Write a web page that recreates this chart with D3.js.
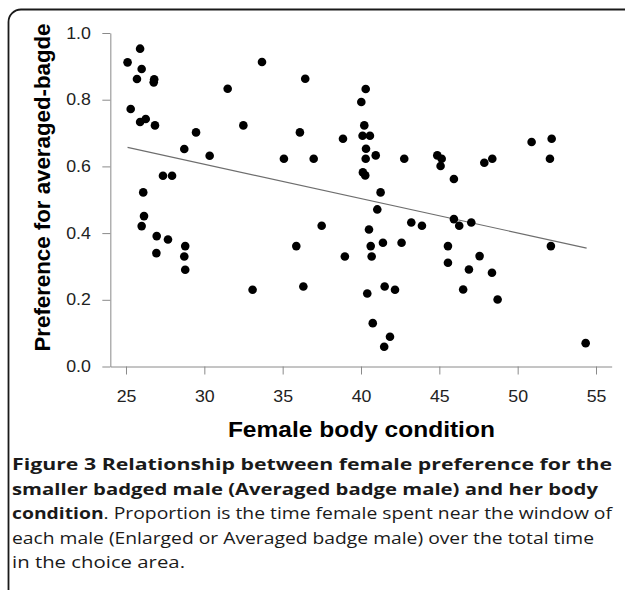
<!DOCTYPE html>
<html>
<head>
<meta charset="utf-8">
<script src="https://cdn.jsdelivr.net/npm/d3@7"></script>
<style>
  html, body { margin: 0; padding: 0; background: #fff; }
  svg { display: block; }
</style>
</head>
<body>
<svg id="chart" width="625" height="590"></svg>
<script>
// ---- data ----
const bodyCondition = [
  25.1, 25.9, 26.0, 25.7, 26.8, 26.77, 25.3, 25.9, 26.26, 26.85,
  31.49, 32.49, 29.47, 28.72, 30.34, 27.36, 27.94, 26.1, 26.15, 26.0,
  26.96, 27.68, 26.94, 28.78, 28.72, 28.78, 33.08, 33.68, 36.44, 40.30,
  40.02, 36.1, 40.21, 38.85, 40.10, 40.57, 40.32, 35.08, 36.98, 40.30,
  40.94, 42.76, 40.12, 40.27, 41.25, 41.04, 43.21, 43.89, 37.49, 40.51,
  35.87, 40.62, 41.40, 42.59, 38.97, 40.68, 36.32, 40.40, 41.51, 42.17,
  40.75, 41.85, 41.48, 44.87, 45.15, 45.08, 45.93, 47.87, 48.38, 50.89,
  52.17, 52.06, 45.93, 46.27, 47.04, 52.12, 45.55, 45.55, 47.57, 46.89,
  48.36, 46.52, 48.72, 54.34
];
const preference = [
  0.912, 0.953, 0.892, 0.862, 0.861, 0.852, 0.772, 0.733, 0.742, 0.723,
  0.833, 0.723, 0.702, 0.652, 0.632, 0.572, 0.572, 0.522, 0.451, 0.421,
  0.391, 0.381, 0.340, 0.361, 0.330, 0.290, 0.230, 0.913, 0.863, 0.832,
  0.793, 0.702, 0.723, 0.683, 0.692, 0.692, 0.653, 0.623, 0.623, 0.623,
  0.633, 0.623, 0.582, 0.573, 0.522, 0.471, 0.432, 0.422, 0.422, 0.411,
  0.361, 0.361, 0.371, 0.371, 0.330, 0.330, 0.240, 0.219, 0.240, 0.230,
  0.130, 0.089, 0.059, 0.633, 0.623, 0.601, 0.562, 0.611, 0.623, 0.673,
  0.683, 0.623, 0.442, 0.422, 0.432, 0.361, 0.361, 0.311, 0.331, 0.291,
  0.281, 0.231, 0.201, 0.070
];
// fitted regression line end points
const fitX = [25.1, 54.4];
const fitY = [0.657, 0.355];

const xTicks = [25, 30, 35, 40, 45, 50, 55];
const yTicks = [0.0, 0.2, 0.4, 0.6, 0.8, 1.0];

const xTitle = "Female body condition";
const yTitle = "Preference for averaged-bagde";

const captionLines = [
  [{t: "Figure 3 Relationship between female preference for the", b: true}],
  [{t: "smaller badged male (Averaged badge male) and her body", b: true}],
  [{t: "condition", b: true}, {t: ". Proportion is the time female spent near the window of", b: false}],
  [{t: "each male (Enlarged or Averaged badge male) over the total time", b: false}],
  [{t: "in the choice area.", b: false}]
];

// ---- drawing ----
const svg = d3.select("#chart");
const stretch = 1.11;

// frame
svg.append("path")
  .attr("d", "M8.5,600 L8.5,22 A12.5,12.5 0 0 1 21,9.5 L640,9.5")
  .attr("fill", "none")
  .attr("stroke", "#1a1a1a")
  .attr("stroke-width", 1.8);

const x = d3.scaleLinear().domain([24, 56]).range([110.33, 611.67]);
const y = d3.scaleLinear().domain([0, 1]).range([366.5, 33]);

const axisColor = "#8a8a8a";

// x axis
const gx = svg.append("g")
  .attr("transform", `translate(0,${y(0)})`)
  .call(d3.axisBottom(x).tickValues(xTicks).tickSize(8).tickSizeOuter(0)
        .tickFormat(d3.format("d")));
gx.select(".domain").attr("stroke", axisColor);
gx.selectAll(".tick line").attr("stroke", axisColor);
gx.selectAll(".tick text")
  .attr("y", 0).attr("dy", 0)
  .attr("transform", `translate(0,35.5) scale(${stretch},1)`)
  .attr("font-family", "Liberation Sans, Arial, sans-serif")
  .attr("font-size", 16)
  .attr("fill", "#222");

// y axis
const gy = svg.append("g")
  .attr("transform", `translate(${x(24)},0)`)
  .call(d3.axisLeft(y).tickValues(yTicks).tickSize(8).tickSizeOuter(0)
        .tickFormat(d3.format(".1f")));
gy.select(".domain").attr("stroke", axisColor);
gy.selectAll(".tick line").attr("stroke", axisColor);
gy.selectAll(".tick text")
  .attr("x", 0)
  .attr("transform", `translate(-19.5,0) scale(${stretch},1)`)
  .attr("font-family", "Liberation Sans, Arial, sans-serif")
  .attr("font-size", 16)
  .attr("fill", "#222");

gx.attr("font-family", null); gy.attr("font-family", null);

// regression line
svg.append("line")
  .attr("x1", x(fitX[0])).attr("y1", y(fitY[0]))
  .attr("x2", x(fitX[1])).attr("y2", y(fitY[1]))
  .attr("stroke", "#6e6e6e")
  .attr("stroke-width", 1.1);

// points
const pts = bodyCondition.map((v, i) => ({bx: v, p: preference[i]}));
svg.append("g").selectAll("circle")
  .data(pts).enter().append("circle")
  .attr("cx", d => x(d.bx))
  .attr("cy", d => y(d.p))
  .attr("r", 4.3)
  .attr("fill", "#000");

// axis titles
svg.append("text")
  .attr("x", 361.4).attr("y", 436.7)
  .attr("text-anchor", "middle")
  .attr("font-family", "Liberation Sans, Arial, sans-serif")
  .attr("font-weight", "bold")
  .attr("font-size", 22)
  .attr("textLength", 267)
  .attr("lengthAdjust", "spacingAndGlyphs")
  .attr("fill", "#000")
  .text(xTitle);

svg.append("text")
  .attr("transform", "translate(50,187.5) rotate(-90)")
  .attr("text-anchor", "middle")
  .attr("font-family", "Liberation Sans, Arial, sans-serif")
  .attr("font-weight", "bold")
  .attr("font-size", 22)
  .attr("textLength", 328)
  .attr("lengthAdjust", "spacingAndGlyphs")
  .attr("fill", "#000")
  .text(yTitle);

// caption
const capBase = [470, 494.5, 519, 543.5, 568];
const capLen = [600, 586, 600, 582, 173];
captionLines.forEach((line, i) => {
  const t = svg.append("text")
    .attr("x", 12).attr("y", capBase[i])
    .attr("font-family", "Open Sans, sans-serif")
    .attr("font-size", 15.5)
    .attr("fill", "#1a1a1a")
    .attr("textLength", capLen[i])
    .attr("lengthAdjust", "spacingAndGlyphs");
  line.forEach(seg => {
    t.append("tspan")
      .attr("font-weight", seg.b ? "bold" : "normal")
      .text(seg.t);
  });
});
</script>
</body>
</html>
